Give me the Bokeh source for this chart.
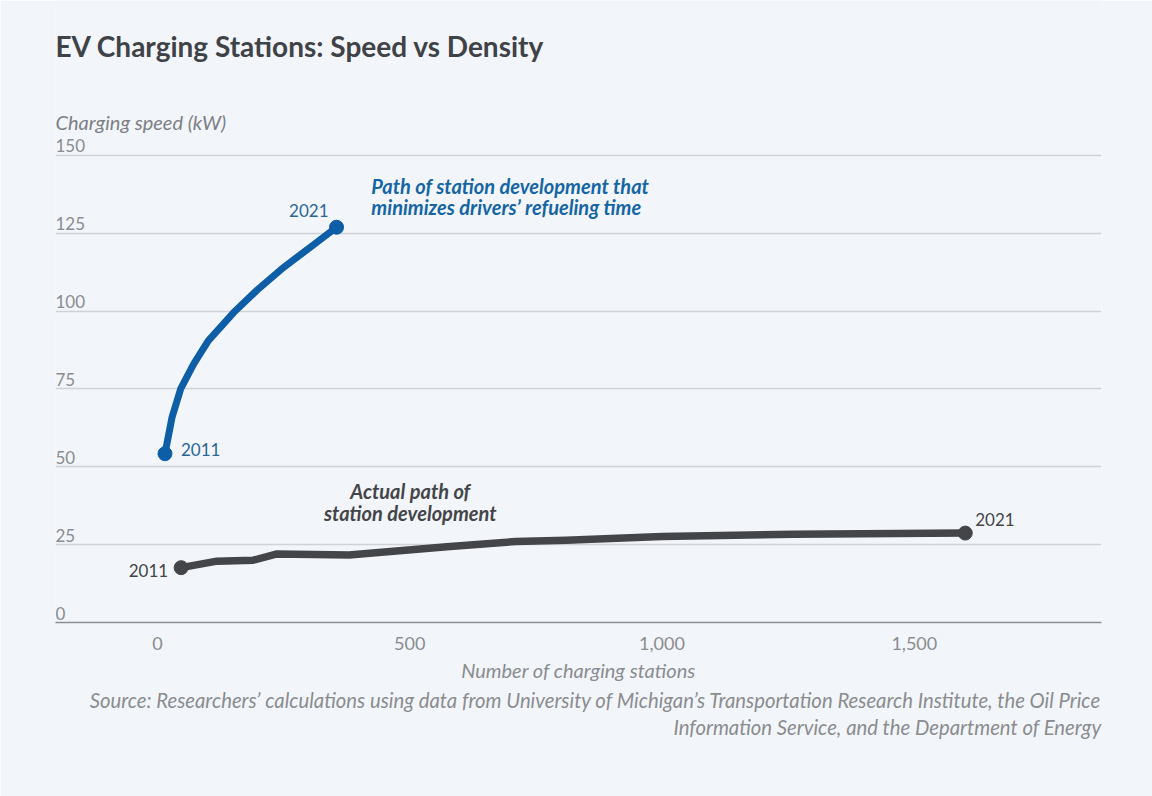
from bokeh.plotting import figure
from bokeh.models import Range1d, FixedTicker, NumeralTickFormatter, Label, ColumnDataSource, Title
from bokeh.core.properties import value
from bokeh.embed import file_html
from bokeh.resources import INLINE

# ---------------- data ----------------
years = [2011, 2021]
opt_stations = [15, 29, 46, 72, 101, 151, 198, 250, 303, 355]
opt_kw = [54.2, 65.9, 75.0, 83.0, 90.5, 99.5, 106.8, 114.0, 120.5, 126.9]
act_stations = [47, 118, 190, 237, 380, 450, 580, 710, 810, 1000, 1260, 1601]
act_kw = [17.6, 19.7, 20.0, 22.0, 21.7, 22.6, 24.4, 26.0, 26.4, 27.6, 28.3, 28.7]
y_ticks = [0, 25, 50, 75, 100, 125, 150]
x_ticks = [0, 500, 1000, 1500]

BG = "#f2f6fa"
BLUE = "#0d5ea6"
GRAY = "#444549"
TICK = "#8a8c90"
FONT = "Lato"

p = figure(width=1152, height=796, output_backend="svg", toolbar_location=None,
           x_range=Range1d(-202, 1871), y_range=Range1d(0, 199.7),
           min_border_left=55, min_border_right=51, min_border_top=0, min_border_bottom=174)
p.background_fill_color = BG
p.border_fill_color = BG
p.outline_line_color = None

# grid
p.xgrid.visible = False
p.ygrid.ticker = FixedTicker(ticks=y_ticks[1:])
p.ygrid.grid_line_color = "#cfd3d7"
p.ygrid.grid_line_width = 1.5
p.yaxis.visible = False

# x axis
xa = p.xaxis[0]
xa.ticker = FixedTicker(ticks=x_ticks)
xa.formatter = NumeralTickFormatter(format="0,0")
xa.axis_line_color = "#8d9094"
xa.axis_line_width = 1.5
xa.major_tick_line_color = None
xa.minor_tick_line_color = None
xa.major_tick_out = 0
xa.major_tick_in = 0
xa.major_label_standoff = 14
xa.major_label_text_font = FONT
xa.major_label_text_font_size = "18px"
xa.major_label_text_color = TICK
xa.axis_label = "Number of charging stations"
xa.axis_label_text_font = FONT
xa.axis_label_text_font_style = "italic"
xa.axis_label_text_font_size = "20px"
xa.axis_label_text_color = TICK
xa.axis_label_standoff = 5

# source lines below
for i, line in enumerate(["Source: Researchers\u2019 calculations using data from University of Michigan\u2019s Transportation Research Institute, the Oil Price",
                          "Information Service, and the Department of Energy"]):
    p.add_layout(Title(text=line, align="right", text_font=FONT, text_font_style="italic",
                       text_font_size="20.3px", text_color=TICK, standoff=2 if i == 0 else 0), "below")

# y tick labels drawn above the gridlines at the left of the frame
ysrc = ColumnDataSource(dict(y=y_ticks, x=[-202] * len(y_ticks), t=[str(v) for v in y_ticks]))
p.text(x="x", y="y", text="t", source=ysrc, text_font=value(FONT), text_font_size="17px",
       text_color=TICK, text_align="left", text_baseline="bottom", y_offset=-3)

# lines
p.line(opt_stations, opt_kw, line_color=BLUE, line_width=7, line_cap="round", line_join="round")
p.scatter([opt_stations[0], opt_stations[-1]], [opt_kw[0], opt_kw[-1]], size=14,
          fill_color=BLUE, line_color=BLUE)
p.line(act_stations, act_kw, line_color=GRAY, line_width=7.5, line_cap="round", line_join="round")
p.scatter([act_stations[0], act_stations[-1]], [act_kw[0], act_kw[-1]], size=14,
          fill_color=GRAY, line_color=GRAY)

def lab(x, y, text, color, size="17px", style="normal", align="left", baseline="middle", xo=0, yo=0):
    p.add_layout(Label(x=x, y=y, text=text, text_color=color, text_font=FONT,
                       text_font_size=size, text_font_style=style, text_align=align,
                       text_baseline=baseline, x_offset=xo, y_offset=yo))

# year labels at path ends
lab(opt_stations[0], opt_kw[0], str(years[0]), "#2b6699", xo=16, yo=4)
lab(opt_stations[-1], opt_kw[-1], str(years[1]), "#2b6699", align="right", xo=-8, yo=17)
lab(act_stations[0], act_kw[0], str(years[0]), GRAY, align="right", xo=-13, yo=-3)
lab(act_stations[-1], act_kw[-1], str(years[1]), GRAY, xo=10, yo=14)

# annotations
lab(424, 140.3, "Path of station development that", "#1565a5", size="20px", style="bold italic")
lab(424, 133.3, "minimizes drivers\u2019 refueling time", "#1565a5", size="20px", style="bold italic")
lab(501, 42.1, "Actual path of", GRAY, size="20px", style="bold italic", align="center")
lab(501, 35.3, "station development", GRAY, size="20px", style="bold italic", align="center")

# title and axis title
lab(-202, 185.0, "EV Charging Stations: Speed vs Density", "#3f4247", size="28px", style="bold")
lab(-202, 160.6, "Charging speed (kW)", "#7d8085", size="20px", style="italic")

open("out.html", "w").write(file_html(p, INLINE))
